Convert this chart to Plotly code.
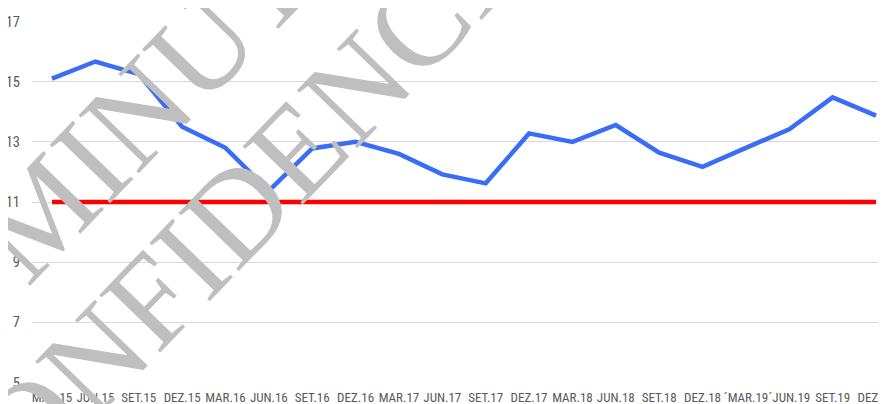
import subprocess
import plotly.graph_objects as go

categories = ["MAR.15", "JUN.15", "SET.15", "DEZ.15", "MAR.16", "JUN.16", "SET.16", "DEZ.16",
              "MAR.17", "JUN.17", "SET.17", "DEZ.17", "MAR.18", "JUN.18", "SET.18", "DEZ.18",
              "´MAR.19", "´JUN.19", "SET.19", "DEZ.19"]
series_values = [15.1, 15.67, 15.25, 13.5, 12.8, 11.37, 12.78, 13.0,
                 12.6, 11.92, 11.62, 13.28, 13.0, 13.56, 12.64, 12.17,
                 12.8, 13.42, 14.48, 13.87]
reference_values = [11] * len(categories)
y_ticks = [5, 7, 9, 11, 13, 15, 17]
watermark_lines = ["MINUTA", "CONFIDENCIAL"]

# pick a condensed sans font if one is installed
try:
    fams = subprocess.run(["fc-list", ":", "family"], capture_output=True, text=True).stdout
except Exception:
    fams = ""
label_family = "Roboto, Liberation Sans, sans-serif"
label_size = 11.5
for cand in ["Liberation Sans Narrow", "Roboto Condensed", "Noto Sans Condensed",
             "DejaVu Sans Condensed", "Open Sans Condensed"]:
    if cand in fams:
        label_family = cand + ", sans-serif"
        label_size = 13
        break

OFF = 8  # page body margin
W, H = 886 - OFF, 404 - OFF
L, R, T, B = 32 - OFF, 0, 21 - OFF, 21
pw, ph = W - L - R, H - T - B

def paper(wx, wy):
    fx, fy = wx - OFF, wy - OFF
    return (fx - L) / pw, 1 - (fy - T) / ph

fig = go.Figure()
fig.add_trace(go.Scatter(x=categories, y=reference_values, mode="lines",
                         line=dict(color="#ff0000", width=4.5), hoverinfo="skip"))
fig.add_trace(go.Scatter(x=categories, y=series_values, mode="lines",
                         line=dict(color="#3a6df5", width=4.5)))

wm_font = dict(family="Liberation Serif, Times New Roman, serif", size=128, color="#bfbfbf")
for txt, (cx, cy) in zip(watermark_lines, [(171, 78), (267, 180)]):
    xp, yp = paper(cx, cy)
    fig.add_annotation(text=txt, x=xp, y=yp, xref="paper", yref="paper",
                       xanchor="center", yanchor="middle", showarrow=False,
                       textangle=-46, font=wm_font)

xlab_font = dict(family=label_family, size=label_size, color="#595959")
ylab_font = dict(family=label_family, size=label_size + 1.5, color="#595959")
fig.update_layout(
    width=W, height=H, margin=dict(l=L, r=R, t=T, b=B),
    paper_bgcolor="white", plot_bgcolor="white", showlegend=False,
    xaxis=dict(type="category", range=[-0.461, 19.23], showgrid=False, showline=False,
               zeroline=False, ticks="", tickfont=xlab_font, automargin=False,
               tickangle=0, ticklabelstandoff=5),
    yaxis=dict(range=[4.983, 17.017], tickvals=y_ticks, showgrid=True, gridcolor="#d9d9d9",
               gridwidth=1, zeroline=False, showline=False, ticks="", tickfont=ylab_font,
               automargin=False, ticklabelstandoff=11),
)
fig.write_html("out.html")
